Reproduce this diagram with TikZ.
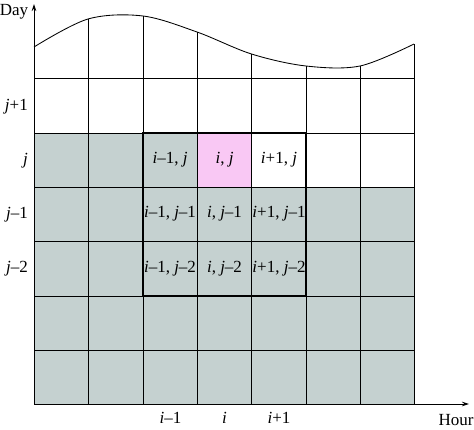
\documentclass[tikz,border=0pt]{standalone}
\usepackage{fontspec}
\setmainfont{Liberation Serif}
\usetikzlibrary{arrows.meta}
\definecolor{cellgray}{HTML}{C5D1D0}
\definecolor{cellpink}{HTML}{F9C8F4}
\begin{document}
\begin{tikzpicture}[x=1pt,y=-1pt,
  gridline/.style={line width=0.85pt},
  thickline/.style={line width=1.8pt},
  axisline/.style={line width=0.85pt,-{Stealth[length=7pt,width=4.5pt]}},
  lbl/.style={font=\fontsize{17}{20}\selectfont, inner sep=0pt},
  axlbl/.style={font=\fontsize{17}{20}\selectfont, inner sep=0pt}]
\useasboundingbox (0,0) rectangle (474,430);
% fills
\fill[cellgray] (34,133) rectangle (197,187);
\fill[cellpink] (197,133) rectangle (251.5,187);
\fill[cellgray] (34,187) rectangle (414,404);
% horizontal grid lines
\foreach \yy in {78,133,187,241,296,350}
  \draw[gridline] (34,\yy) -- (414,\yy);
% vertical grid lines up to the curve
\foreach \xx/\yy in {88/19,143/16,197/32,251.5/54,306/66,360/66,414/44}
  \draw[gridline] (\xx,404) -- (\xx,\yy);
% top curve
\draw[gridline] plot[smooth,tension=0.55] coordinates
  {(34,47) (88,19) (143,16) (197,32) (251.5,54) (306,66) (360,66) (414,44)};
% thick neighbourhood box
\draw[thickline] (143,133) rectangle (306,296);
% axes
\coordinate (O) at (34,404);
\coordinate (ytop) at (34,4);
\coordinate (xend) at (469,404);
\draw[axisline] (O) -- (ytop);
\draw[axisline] (O) -- (xend);
\node[axlbl] (day) at (14,12) {Day};
\node[axlbl] (hour) at (456,420) {Hour};
% row labels
\node[lbl,anchor=east] (rjp1) at (28,107) {\textit{j}+1};
\node[lbl,anchor=east] (rj)   at (28,161) {\textit{j}};
\node[lbl,anchor=east] (rjm1) at (28,215) {\textit{j}–1};
\node[lbl,anchor=east] (rjm2) at (28,269) {\textit{j}–2};
% column labels
\node[lbl] (cim1) at (170.5,418) {\textit{i}–1};
\node[lbl] (ci)   at (224.5,418) {\textit{i}};
\node[lbl] (cip1) at (279,418) {\textit{i}+1};
% cell labels
\node[lbl] (a1) at (170,160) {\textit{i}–1, \textit{j}};
\node[lbl] (a2) at (224.5,160) {\textit{i}, \textit{j}};
\node[lbl] (a3) at (279,160) {\textit{i}+1, \textit{j}};
\node[lbl] (b1) at (170,214) {\textit{i}–1, \textit{j}–1};
\node[lbl] (b2) at (224.5,214) {\textit{i}, \textit{j}–1};
\node[lbl] (b3) at (279,214) {\textit{i}+1, \textit{j}–1};
\node[lbl] (c1) at (170,268.5) {\textit{i}–1, \textit{j}–2};
\node[lbl] (c2) at (224.5,268.5) {\textit{i}, \textit{j}–2};
\node[lbl] (c3) at (279,268.5) {\textit{i}+1, \textit{j}–2};
\end{tikzpicture}
\end{document}
